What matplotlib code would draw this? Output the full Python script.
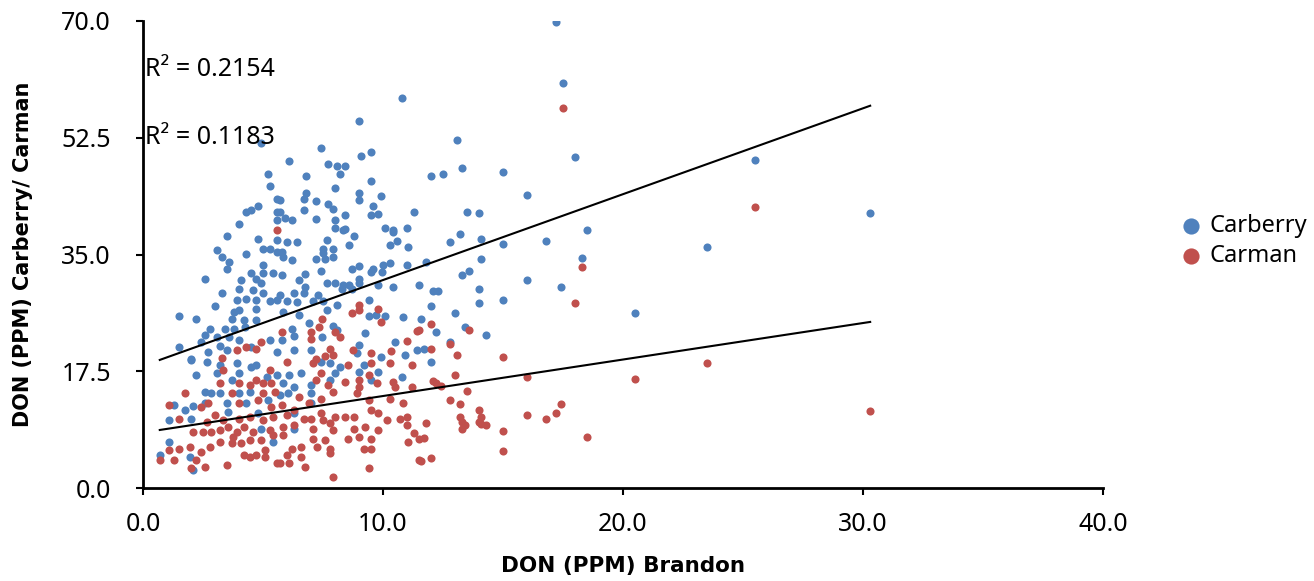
import numpy as np
import matplotlib
matplotlib.use("Agg")
import matplotlib.pyplot as plt

plt.rcParams['font.family'] = ['Noto Sans', 'DejaVu Sans']

# (Brandon DON, site DON) pairs
carberry = [
    (17.2, 69.9), (17.5, 60.7), (18.0, 49.6), (25.5, 49.2), (30.3, 41.2), (18.5, 38.6), (18.3, 34.5),
    (23.5, 36.2), (20.5, 26.2), (17.4, 30.2),
    (10.8, 58.4), (9.0, 55.0), (13.1, 52.1), (7.4, 50.9), (4.9, 51.7), (9.5, 50.3), (6.1, 49.0), (9.1, 49.7),
    (5.2, 47.0), (7.7, 48.5), (8.1, 48.3), (8.4, 48.2), (8.2, 47.1), (6.8, 46.8), (15.0, 47.4), (12.5, 47.1),
    (12.0, 46.8), (13.3, 47.9), (16.0, 43.9), (11.3, 41.3), (13.5, 41.4), (14.0, 41.2), (16.8, 37.0),
    (14.1, 37.3), (13.2, 38.0), (15.0, 36.5), (12.8, 36.8), (11.8, 33.9), (14.1, 34.4), (13.6, 32.5),
    (13.3, 32.0), (16.0, 31.2), (11.5, 30.4), (12.1, 29.5), (12.3, 29.5), (14.0, 29.8), (14.0, 27.7),
    (15.0, 28.2), (12.0, 27.3), (13.0, 26.3), (11.6, 25.3), (12.2, 23.4), (13.4, 24.1), (14.3, 23.0),
    (12.8, 21.9), (11.7, 20.8), (12.0, 18.9),
    (9.5, 46.0), (8.0, 45.0), (6.8, 44.2), (6.7, 43.3), (9.0, 44.2), (9.0, 43.1), (9.9, 43.7), (7.2, 43.0),
    (7.7, 42.5), (7.9, 41.8), (9.6, 42.3), (9.8, 41.1), (9.5, 40.9), (6.7, 41.6), (7.2, 40.3), (8.0, 40.1),
    (8.4, 40.9), (5.7, 43.2), (5.7, 41.4), (5.9, 40.4), (6.2, 40.1), (8.0, 39.0), (8.4, 38.8), (10.1, 39.0),
    (10.4, 38.7), (11.0, 38.9),
    (5.3, 45.2), (5.6, 43.3), (4.8, 42.3), (4.5, 41.7), (4.3, 41.3), (4.0, 39.6), (5.6, 41.4), (5.6, 40.2),
    (3.5, 37.7), (3.1, 35.7), (3.3, 34.7), (3.6, 33.9), (3.5, 32.8), (4.3, 35.1), (4.8, 37.3), (5.0, 35.8),
    (5.3, 35.9), (5.6, 37.2), (5.6, 35.4), (5.0, 33.4), (4.5, 32.2), (4.7, 31.4), (5.0, 32.2), (5.4, 32.2),
    (4.1, 31.2), (4.9, 30.7), (2.6, 31.3), (4.0, 29.9), (4.6, 29.7), (5.0, 29.3), (3.3, 29.3), (3.9, 28.2),
    (4.3, 28.4), (4.7, 28.2), (5.3, 28.0), (5.6, 28.2), (3.0, 27.3), (3.8, 26.4), (4.0, 26.7), (4.7, 26.9),
    (1.5, 25.8), (2.2, 25.3), (3.7, 25.4), (4.2, 25.2), (4.7, 25.2), (2.8, 23.8), (3.4, 23.8), (3.8, 23.9),
    (4.25, 24.2), (2.6, 22.9), (3.1, 22.7), (3.6, 22.7), (2.4, 21.9), (1.5, 21.1), (3.2, 21.3), (4.0, 22.2),
    (4.5, 21.2), (5.3, 22.2), (2.0, 19.4), (2.7, 20.4), (3.5, 20.7), (5.6, 20.4),
    (8.35, 38.7), (8.8, 37.8), (10.4, 38.4), (6.0, 36.8), (6.4, 36.8), (7.65, 37.2), (7.5, 35.9),
    (7.9, 35.8), (8.6, 36.4), (10.3, 36.4), (10.6, 37.0), (11.05, 36.2), (5.8, 35.4), (5.85, 34.7),
    (6.2, 34.2), (7.2, 34.3), (7.6, 34.4), (7.9, 34.7), (7.5, 35.2), (9.0, 33.3), (8.7, 32.8), (9.6, 32.9),
    (9.95, 32.4), (10.0, 33.4), (9.5, 32.4), (11.0, 33.4), (7.4, 32.6), (6.75, 32.1), (5.8, 31.9),
    (6.5, 31.2), (7.65, 30.7), (8.0, 30.8), (8.35, 30.4), (8.6, 30.5), (9.0, 30.7), (9.0, 31.3), (8.3, 29.8),
    (8.7, 29.9), (9.8, 30.4), (10.4, 30.1), (6.75, 30.2), (6.3, 29.2), (6.7, 29.2), (5.7, 28.9), (6.0, 28.1),
    (6.4, 27.9), (7.3, 28.9), (7.1, 28.1), (7.5, 28.1), (9.4, 28.2), (7.65, 26.7), (8.1, 27.4), (5.85, 26.4),
    (6.5, 25.9), (9.4, 25.8), (9.7, 25.9), (10.1, 25.8), (10.85, 25.6), (6.9, 24.7), (7.9, 24.3), (6.2, 23.9),
    (8.1, 23.7), (9.25, 23.3), (7.45, 22.7), (6.3, 22.8), (5.8, 22.2), (10.5, 21.9), (9.0, 21.4), (7.0, 20.7),
    (6.3, 20.7), (8.9, 20.2), (10.9, 19.9), (11.4, 20.7), (9.9, 19.7), (10.3, 33.7),
    (2.0, 19.2), (2.65, 18.9), (3.2, 18.4), (2.2, 16.9), (3.1, 17.2), (3.7, 16.2), (4.0, 17.2), (4.5, 18.2),
    (4.7, 18.4), (5.15, 16.7), (5.6, 16.9), (3.9, 18.7), (2.6, 14.4), (2.85, 14.2), (3.2, 14.2), (4.0, 14.2),
    (4.45, 14.4), (2.6, 12.7), (2.1, 12.3), (1.75, 11.7), (1.3, 12.4), (1.1, 10.2), (2.0, 10.4), (3.5, 12.7),
    (3.55, 11.4), (4.3, 12.7), (5.2, 13.2), (4.8, 11.2), (1.1, 6.9), (0.7, 4.9), (1.95, 4.7), (2.1, 2.7),
    (5.4, 6.9), (4.9, 8.9),
    (7.4, 18.9), (7.8, 18.7), (8.2, 18.2), (9.2, 18.4), (9.0, 17.4), (6.1, 16.9), (6.6, 17.2), (8.0, 17.2),
    (9.8, 17.4), (9.5, 16.2), (10.8, 16.7), (5.85, 15.7), (6.3, 15.2), (7.0, 15.4), (7.8, 16.2), (6.05, 14.2),
    (7.0, 14.2), (5.7, 13.9), (7.0, 12.7), (6.3, 11.2), (6.3, 8.9),
]

carman = [
    (17.5, 57.0), (25.5, 42.1), (18.3, 33.2), (18.0, 27.7), (23.5, 18.7), (20.5, 16.4), (30.3, 11.5),
    (18.5, 7.7), (17.4, 12.6),
    (12.0, 24.6), (13.6, 23.7), (11.5, 23.7), (12.8, 21.6), (12.0, 20.8), (13.1, 19.9), (15.0, 19.7),
    (13.0, 16.9), (12.1, 16.0), (12.2, 15.7), (12.4, 15.3), (13.5, 14.5), (16.0, 16.6), (12.8, 13.2),
    (13.2, 12.6), (14.0, 11.7), (17.2, 11.2), (16.8, 10.3), (16.0, 11.0), (13.2, 10.7), (13.3, 9.9),
    (13.4, 9.5), (13.3, 8.9), (14.0, 9.9), (14.1, 10.6), (14.3, 9.4), (14.1, 9.6), (15.0, 8.5), (15.0, 5.5),
    (11.8, 9.7), (11.7, 7.5), (11.5, 7.4), (12.0, 4.5), (11.6, 4.1),
    (4.9, 21.9), (3.9, 20.7), (4.3, 21.1), (4.7, 20.9), (3.3, 19.5), (5.6, 38.7),
    (9.0, 27.4), (8.7, 26.3), (9.0, 26.7), (9.8, 26.9), (9.9, 24.9), (10.35, 20.6), (11.4, 23.6),
    (7.45, 25.4), (7.35, 24.2), (7.0, 23.4), (7.0, 22.4), (8.2, 22.7), (8.0, 23.4), (11.0, 22.1),
    (7.8, 20.9), (7.9, 19.9), (7.6, 19.8), (8.75, 20.7), (9.5, 20.2), (5.8, 23.4), (7.2, 19.4),
    (1.75, 14.2), (1.5, 10.4), (2.4, 12.2), (2.7, 12.7), (3.0, 10.9), (3.2, 15.7), (3.7, 14.2), (4.0, 12.7),
    (4.7, 16.2), (5.0, 14.2), (5.5, 14.4), (2.1, 8.4), (2.5, 8.4), (2.85, 8.4), (3.2, 8.7), (3.55, 9.2),
    (3.9, 8.4), (4.2, 9.2), (4.6, 8.4), (5.3, 8.7), (1.95, 6.2), (2.4, 5.4), (2.8, 6.2), (3.2, 6.9),
    (3.7, 6.7), (4.1, 6.7), (4.2, 4.9), (4.45, 4.7), (4.7, 4.9), (5.1, 5.7), (5.1, 4.7), (5.6, 3.7),
    (1.1, 5.7), (0.7, 4.2), (1.3, 4.2), (1.5, 5.9), (2.2, 4.2), (2.6, 3.1), (2.0, 3.0), (3.5, 3.4),
    (3.75, 7.7), (4.45, 7.2), (4.9, 7.2), (5.4, 7.9), (4.0, 10.4), (4.45, 10.7), (5.0, 10.2), (5.4, 10.7),
    (3.35, 10.2), (2.65, 9.9), (4.8, 13.2), (5.35, 12.2), (4.45, 15.4), (5.0, 15.7), (4.0, 15.7),
    (5.35, 15.7), (5.3, 17.7), (3.35, 17.7), (1.1, 12.5),
    (6.0, 18.9), (7.1, 18.7), (8.55, 18.4), (9.5, 18.7), (10.3, 18.7), (11.2, 18.4), (9.4, 16.9),
    (9.0, 16.2), (8.4, 15.9), (9.75, 15.7), (10.4, 15.9), (10.5, 15.2), (11.2, 15.2), (7.4, 17.2),
    (7.2, 16.2), (7.7, 15.4), (7.9, 14.4), (7.4, 13.4), (6.9, 12.7), (6.5, 13.7), (8.9, 14.2), (9.0, 15.2),
    (9.4, 13.2), (10.3, 13.4), (10.85, 12.7), (5.8, 12.4), (6.3, 11.7), (6.0, 10.9), (6.7, 10.4),
    (7.0, 10.4), (7.4, 11.2), (7.5, 10.2), (7.8, 9.7), (8.0, 10.7), (8.4, 10.7), (8.8, 10.7), (9.5, 11.7),
    (9.8, 11.2), (10.15, 10.2), (10.7, 10.4), (11.0, 10.7), (11.0, 9.4), (5.85, 9.2), (6.3, 9.4),
    (7.1, 8.9), (7.9, 8.7), (8.8, 8.9), (9.25, 9.2), (9.8, 8.7), (11.3, 8.2), (5.85, 7.9), (7.1, 7.4),
    (7.6, 7.2), (8.55, 7.4), (9.0, 7.7), (9.5, 7.4), (11.05, 6.9), (6.2, 5.9), (6.6, 6.2), (7.25, 6.2),
    (7.8, 5.9), (9.2, 5.9), (9.5, 5.9), (6.0, 4.9), (6.6, 4.7), (6.1, 3.7), (6.75, 3.2), (7.8, 5.2),
    (5.7, 3.7), (9.4, 3.0), (7.9, 1.7), (11.5, 4.2),
]

# linear trendlines (slope, intercept) and R² as shown on the chart
carberry_fit = (1.287, 18.3)
carman_fit = (0.547, 8.32)
r2_labels = ["R\u00b2 = 0.2154", "R\u00b2 = 0.1183"]
r2_y = [62.7, 52.5]

blue = '#4F81BD'
red = '#C0504D'

cb = np.array(carberry)
cm = np.array(carman)

fig = plt.figure(figsize=(13.14, 5.81), dpi=100)
ax = fig.add_axes([0.1088, 0.160, 0.7306, 0.8039])

ax.scatter(cb[:, 0], cb[:, 1], s=34, color=blue, linewidths=0, label='Carberry', zorder=2)
ax.scatter(cm[:, 0], cm[:, 1], s=34, color=red, linewidths=0, label='Carman', zorder=3)

for pts, (m, b) in [(cb, carberry_fit), (cm, carman_fit)]:
    xs = np.array([pts[:, 0].min(), pts[:, 0].max()])
    ax.plot(xs, m * xs + b, color='black', lw=1.5, zorder=4)

for lab, yy in zip(r2_labels, r2_y):
    ax.text(0.08, yy, lab, fontsize=18, va='center', ha='left', zorder=5)

ax.set_xlim(0, 40)
ax.set_ylim(0, 70)
ax.set_xticks([0, 10, 20, 30, 40])
ax.set_yticks([0, 17.5, 35, 52.5, 70])
ax.xaxis.set_major_formatter(matplotlib.ticker.FormatStrFormatter('%.1f'))
ax.yaxis.set_major_formatter(matplotlib.ticker.FormatStrFormatter('%.1f'))
ax.tick_params(labelsize=18, width=1.5, length=5, direction='out', color='black')
ax.tick_params(axis='y', pad=18)
ax.tick_params(axis='x', pad=12)
for s in ['top', 'right']:
    ax.spines[s].set_visible(False)
for s in ['left', 'bottom']:
    ax.spines[s].set_linewidth(2)
    ax.spines[s].set_color('black')

ax.set_xlabel('DON (PPM) Brandon', fontsize=15.5, fontweight='bold', family='DejaVu Sans', labelpad=14)
ax.set_ylabel('DON (PPM) Carberry/ Carman', fontsize=15, fontweight='bold', family='DejaVu Sans',
              labelpad=20)

fig.legend(loc='center left', bbox_to_anchor=(0.889, 0.585), frameon=False, fontsize=17,
           markerscale=2.0, handletextpad=0.25, labelspacing=0.25, borderaxespad=0, handlelength=1.1)

fig.savefig('out.png', dpi=100)
